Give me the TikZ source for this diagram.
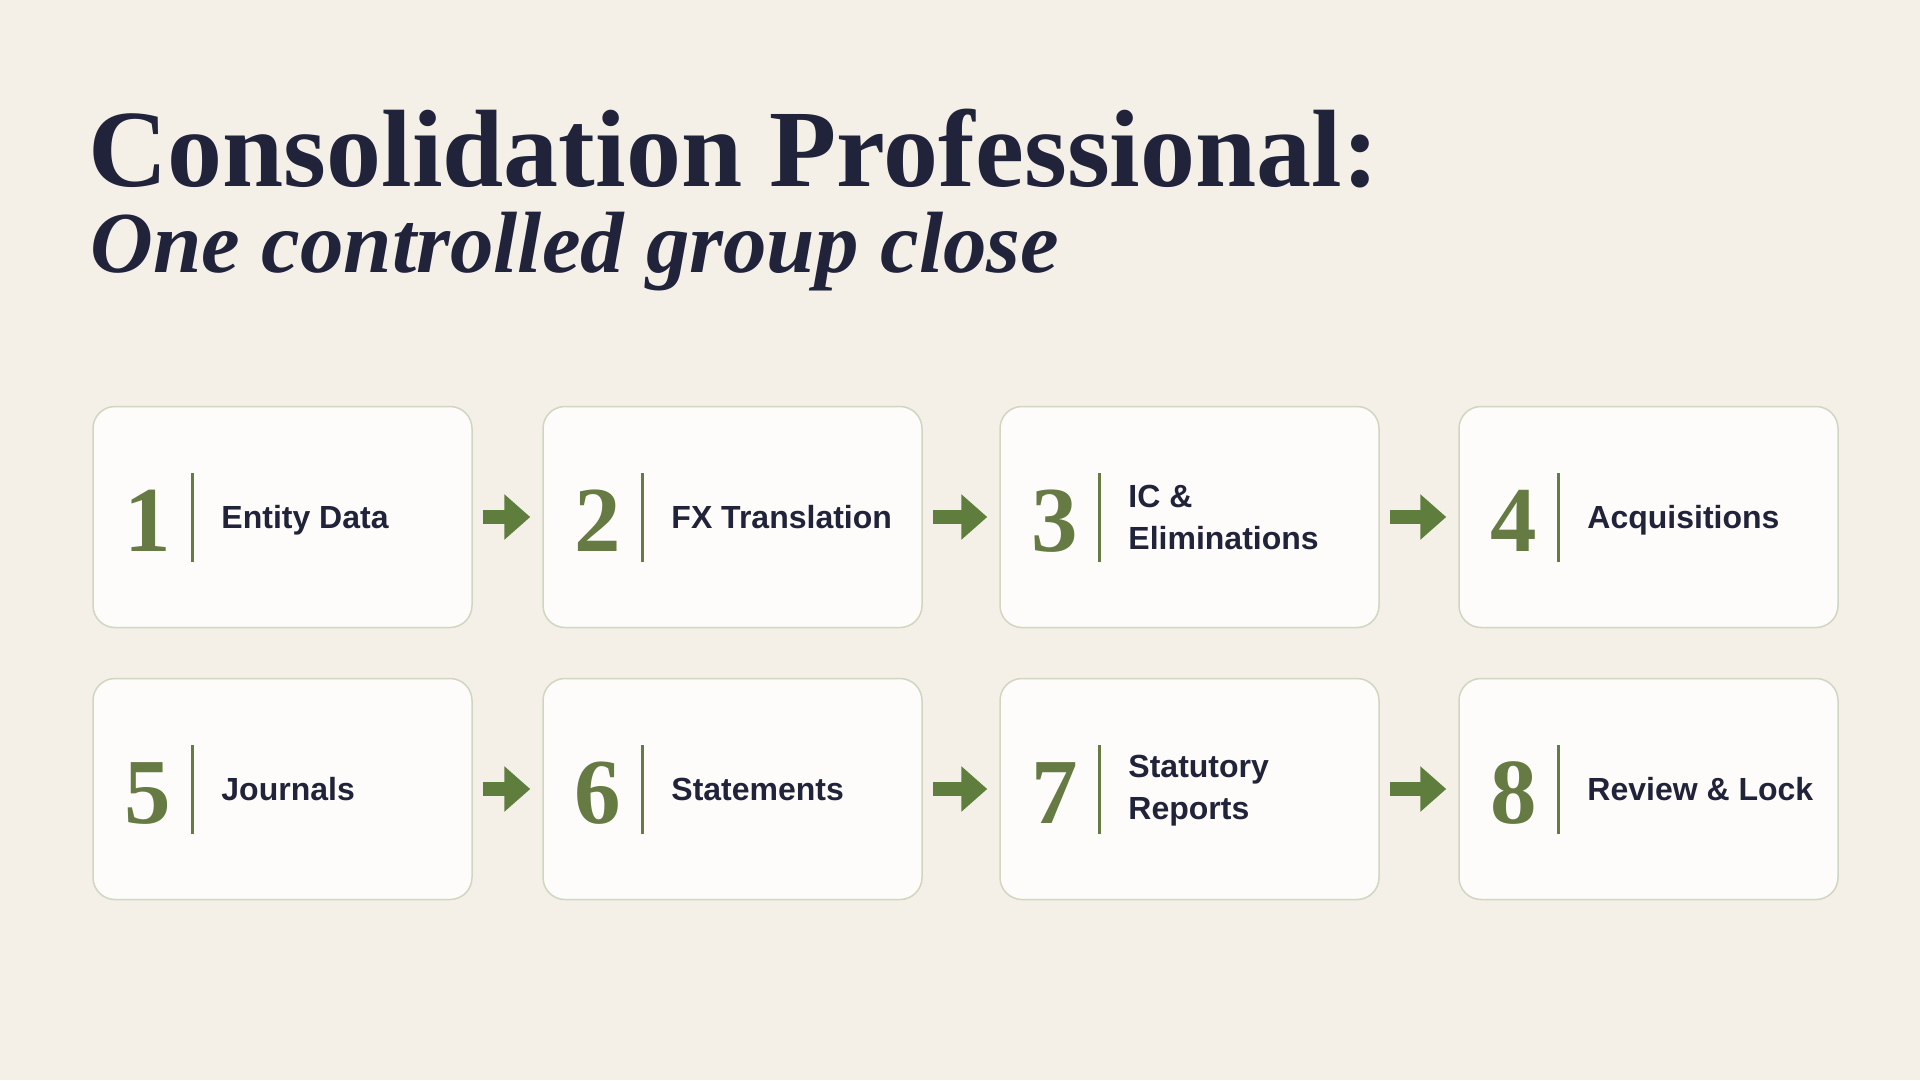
\documentclass[tikz,border=0pt]{standalone}
\usepackage{fontspec}
\setmainfont{Liberation Serif}
\newfontfamily\labelfont{Liberation Sans}
\usetikzlibrary{arrows.meta,calc}
\definecolor{bgcream}{HTML}{F4F0E8}
\definecolor{cardfill}{HTML}{FDFCFA}
\definecolor{cardedge}{HTML}{D0D6BF}
\definecolor{olive}{HTML}{667A44}
\definecolor{arrowgreen}{HTML}{5F7E3D}
\definecolor{ink}{HTML}{20233A}
\begin{document}
\begin{tikzpicture}[x=1pt,y=-1pt,
  card/.style={draw=cardedge, line width=1.5pt, fill=cardfill, rounded corners=22pt,
    minimum width=379pt, minimum height=221pt, inner sep=0pt},
  num/.style={anchor=base, text=olive, font=\bfseries\fontsize{93}{93}\selectfont, inner sep=0pt},
  rulebar/.style={draw=olive, line width=2.5pt},
  lblone/.style={anchor=base west, text=ink, font=\labelfont\bfseries\fontsize{32}{42}\selectfont, inner sep=0pt},
  lbltwo/.style={anchor=west, text=ink, font=\labelfont\bfseries\fontsize{32}{42}\selectfont, align=left, inner sep=0pt},
  flow/.style={draw=arrowgreen, line width=14pt, -{Triangle[width=44pt,length=26pt]},
    shorten <=10pt, shorten >=12pt},
]
\fill[bgcream] (0,0) rectangle (1920,1080);
\useasboundingbox (0,0) rectangle (1920,1080);

\node[anchor=base west, inner sep=0pt, text=ink, font=\bfseries\fontsize{110}{120}\selectfont] (title) at (88,186) {Consolidation Professional:};
\node[anchor=base west, inner sep=0pt, text=ink, font=\bfseries\itshape\fontsize{87}{95}\selectfont] (subtitle) at (90,272) {One controlled group close};

% cards
\node[card] (b1) at (282.5,517) {};
\node[card] (b2) at (732.5,517) {};
\node[card] (b3) at (1189.5,517) {};
\node[card] (b4) at (1648.5,517) {};
\node[card] (b5) at (282.5,789) {};
\node[card] (b6) at (732.5,789) {};
\node[card] (b7) at (1189.5,789) {};
\node[card] (b8) at (1648.5,789) {};

% numbers, dividers, labels
\foreach \b/\n in {b1/1,b2/2,b3/3,b4/4,b5/5,b6/6,b7/7,b8/8}{
  \node[num] (n\n) at ($(\b.west)+(55,34)$) {\n};
  \draw[rulebar] ($(\b.west)+(100,-44)$) -- ($(\b.west)+(100,45)$);
}
\node[lblone] (t1) at ($(b1.west)+(129,11)$) {Entity Data};
\node[lblone] (t2) at ($(b2.west)+(129,11)$) {FX Translation};
\node[lbltwo] (t3) at ($(b3.west)+(129,0)$) {IC \&\\Eliminations};
\node[lblone] (t4) at ($(b4.west)+(129,11)$) {Acquisitions};
\node[lblone] (t5) at ($(b5.west)+(129,11)$) {Journals};
\node[lblone] (t6) at ($(b6.west)+(129,11)$) {Statements};
\node[lbltwo] (t7) at ($(b7.west)+(129,2)$) {Statutory\\Reports};
\node[lblone] (t8) at ($(b8.west)+(129,11)$) {Review \& Lock};

% flow arrows
\draw[flow] (b1) -- (b2);
\draw[flow] (b2) -- (b3);
\draw[flow] (b3) -- (b4);
\draw[flow] (b5) -- (b6);
\draw[flow] (b6) -- (b7);
\draw[flow] (b7) -- (b8);
\end{tikzpicture}
\end{document}
